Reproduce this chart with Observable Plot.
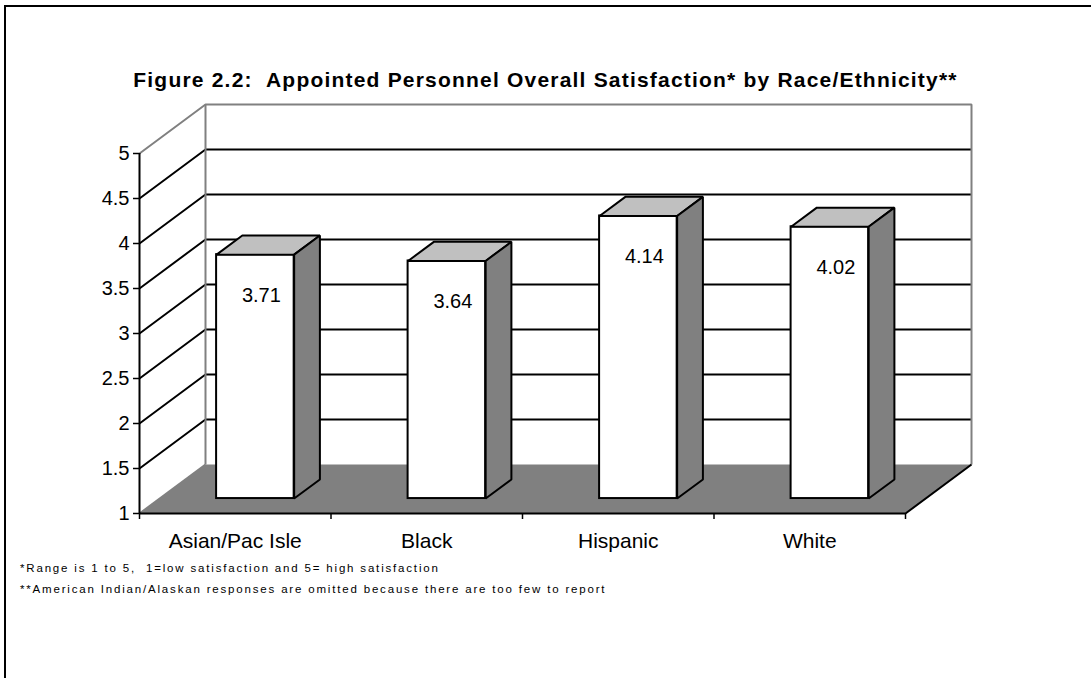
<!DOCTYPE html>
<html>
<head>
<meta charset="utf-8">
<script src="https://cdn.jsdelivr.net/npm/d3@7"></script>
<script src="https://cdn.jsdelivr.net/npm/@observablehq/plot@0.6"></script>
<style>
  html, body { margin: 0; padding: 0; background: #fff; }
  body { width: 1091px; height: 678px; position: relative; overflow: hidden; font-family: "Liberation Sans", Arial, sans-serif; color: #000; }
  #frame { position: absolute; left: 4px; top: 5px; width: 1090px; height: 680px; border-top: 2px solid #000; border-left: 2px solid #000; box-sizing: border-box; }
  #title { position: absolute; left: 0; top: 68px; width: 1091px; text-align: center; font-weight: bold; font-size: 21px; letter-spacing: 1.2px; white-space: pre; }
  #chart { position: absolute; left: 0; top: 100px; }
  .note { position: absolute; left: 20px; font-size: 11.5px; letter-spacing: 1.82px; white-space: pre; }
</style>
</head>
<body>
<div id="frame"></div>
<div id="title">Figure 2.2:  Appointed Personnel Overall Satisfaction* by Race/Ethnicity**</div>
<div id="chart"></div>
<div class="note" style="top:562px">*Range is 1 to 5,  1=low satisfaction and 5= high satisfaction</div>
<div class="note" style="top:583px">**American Indian/Alaskan responses are omitted because there are too few to report</div>
<script>
// ---- data ----
const categories = ["Asian/Pac Isle", "Black", "Hispanic", "White"];
const values = [3.71, 3.64, 4.14, 4.02];
const yTicks = [1, 1.5, 2, 2.5, 3, 3.5, 4, 4.5, 5];

// ---- 3D projection parameters (in scale units) ----
const DX = 66 / 191.5;   // depth shift along x (category units)
const DY = 49 / 90;      // depth shift along y (value units)
const F0 = 0.305, F1 = 0.695; // bar depth span (fraction of floor depth)
const HW = 0.2025;       // half bar width (category units)
const yMin = yTicks[0], yMax = yTicks[yTicks.length - 1];
const n = categories.length;

const pts = (id, arr) => arr.map(([x, y]) => ({id, x, y}));

// walls
const backWall = pts("back", [[DX, yMin + DY], [DX, yMax + DY], [n + DX, yMax + DY], [n + DX, yMin + DY]]);
const sideWall = pts("side", [[0, yMin], [0, yMax], [DX, yMax + DY], [DX, yMin + DY]]);
const wallEdges = [
  ...pts("e1", [[0, yMax], [DX, yMax + DY], [n + DX, yMax + DY], [n + DX, yMin + DY]]),
  ...pts("e2", [[DX, yMin + DY], [DX, yMax + DY]]),
  ...pts("e3", [[0, yMin], [DX, yMin + DY]])
];
const grid = yTicks.filter(v => v > yMin && v < yMax)
  .flatMap(v => pts("g" + v, [[0, v], [DX, v + DY], [n + DX, v + DY]]));
const floor = pts("floor", [[0, yMin], [DX, yMin + DY], [n + DX, yMin + DY], [n, yMin]]);
const floorEdge = pts("fe", [[0, yMin], [n, yMin], [n + DX, yMin + DY]]);

// bars
const bars = values.map((v, i) => {
  const xc = i + 0.5 + F0 * DX;
  return {cat: categories[i], v, x1: xc - HW, x2: xc + HW, xc, y1: yMin + F0 * DY, y2: v + F0 * DY};
});
const dd = F1 - F0;
const tops = bars.flatMap((b, i) => pts("t" + i, [[b.x1, b.y2], [b.x2, b.y2], [b.x2 + dd * DX, b.y2 + dd * DY], [b.x1 + dd * DX, b.y2 + dd * DY]]));
const sides = bars.flatMap((b, i) => pts("s" + i, [[b.x2, b.y1], [b.x2, b.y2], [b.x2 + dd * DX, b.y2 + dd * DY], [b.x2 + dd * DX, b.y1 + dd * DY]]));

const bounds = d3.range(n + 1);

const chart = Plot.plot({
  width: 1091,
  height: 460,
  marginLeft: 139,
  marginRight: 186,
  marginTop: 53,
  marginBottom: 47,
  style: {fontFamily: "Liberation Sans, Arial, sans-serif", fontSize: "20px", color: "#000", background: "transparent", overflow: "visible"},
  x: {type: "linear", domain: [0, n], axis: null},
  y: {type: "linear", domain: [yMin, yMax], axis: null},
  marks: [
    Plot.line(backWall, {x: "x", y: "y", z: "id", fill: "#fff", stroke: "none", curve: "linear-closed"}),
    Plot.line(sideWall, {x: "x", y: "y", z: "id", fill: "#fff", stroke: "none", curve: "linear-closed"}),
    Plot.line(grid, {x: "x", y: "y", z: "id", stroke: "#000", strokeWidth: 2, strokeLinecap: "butt", strokeLinejoin: "miter"}),
    Plot.line(wallEdges, {x: "x", y: "y", z: "id", stroke: "#808080", strokeWidth: 2, strokeLinecap: "butt", strokeLinejoin: "miter"}),
    Plot.line(floor, {x: "x", y: "y", z: "id", fill: "#808080", stroke: "none", curve: "linear-closed"}),
    Plot.line(floorEdge, {x: "x", y: "y", z: "id", stroke: "#000", strokeWidth: 2, strokeLinecap: "butt", strokeLinejoin: "miter"}),
    Plot.ruleX([0], {y1: yMin, y2: yMax, stroke: "#000", strokeWidth: 2}),
    Plot.axisY({ticks: yTicks, tickSize: 6, tickPadding: 4, fontSize: 20, strokeWidth: 1.5, tickFormat: d3.format("")}),
    Plot.axisX({ticks: bounds, tickSize: 6, strokeWidth: 1.5, tickFormat: () => ""}),
    Plot.text(categories, {x: (d, i) => i + 0.5, y: () => yMin, dy: 28, text: d => d, fontSize: 21}),
    Plot.rect(bars, {x1: "x1", x2: "x2", y1: "y1", y2: "y2", fill: "#fff", stroke: "#000", strokeWidth: 2}),
    Plot.line(tops, {x: "x", y: "y", z: "id", fill: "#c0c0c0", stroke: "#000", strokeWidth: 2, strokeLinejoin: "miter", curve: "linear-closed"}),
    Plot.line(sides, {x: "x", y: "y", z: "id", fill: "#808080", stroke: "#000", strokeWidth: 2, strokeLinejoin: "miter", curve: "linear-closed"}),
    Plot.text(bars, {x: "xc", y: "y2", dx: 6, dy: 41, text: d => d3.format(".2f")(d.v), fontSize: 20})
  ]
});
document.getElementById("chart").appendChild(chart);
</script>
</body>
</html>
